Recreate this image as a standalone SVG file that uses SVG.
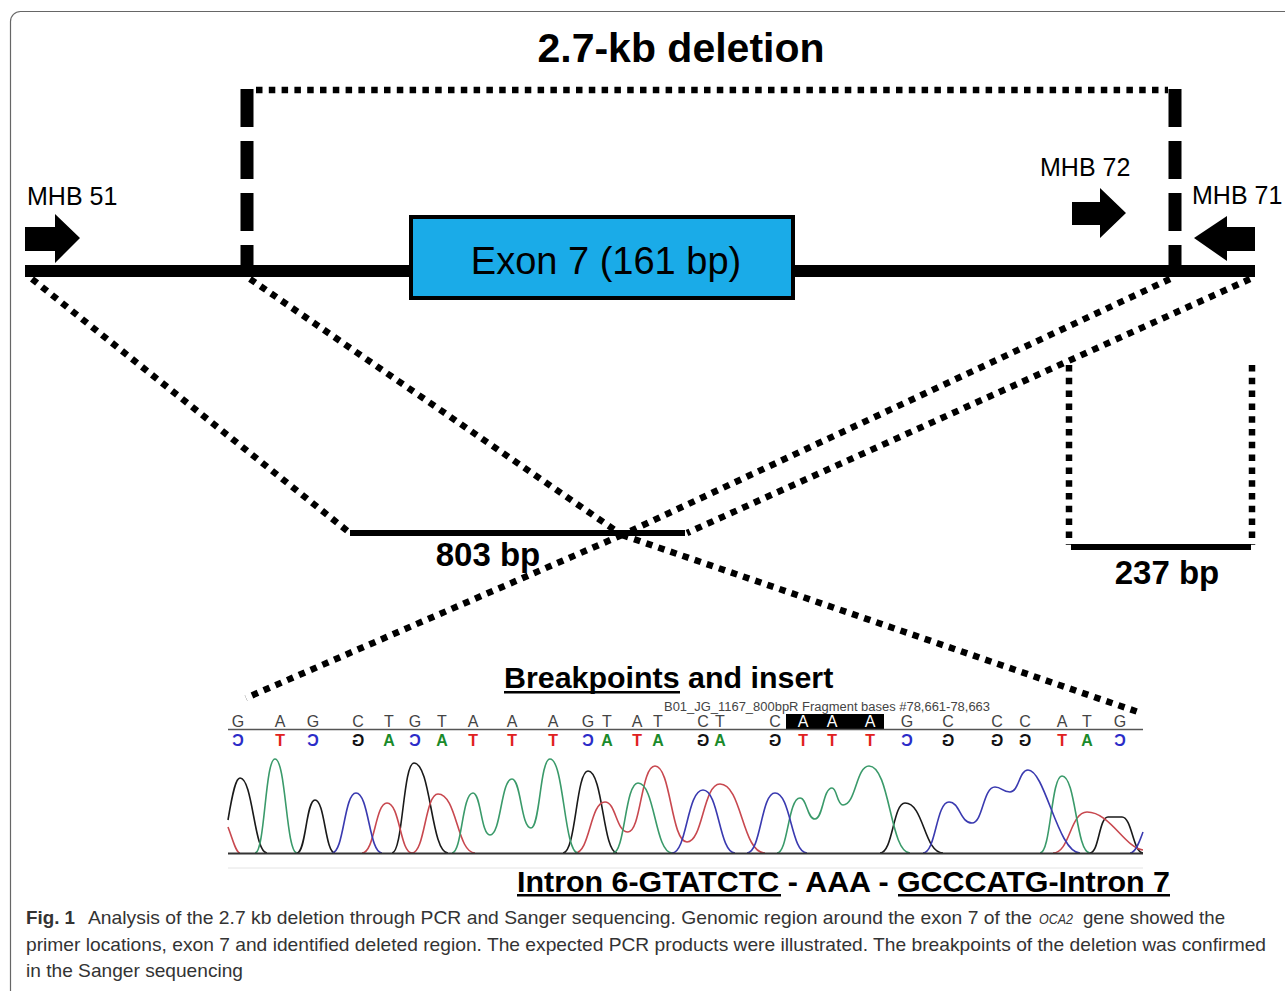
<svg xmlns="http://www.w3.org/2000/svg" width="1285" height="991" viewBox="0 0 1285 991">
<style>
.s{font-family:"Liberation Sans",Arial,sans-serif}
.b{font-weight:bold}
.dot{fill:none;stroke:#000;stroke-width:6.5;stroke-dasharray:6.5 6.3}
.dash{fill:none;stroke:#000;stroke-width:13;stroke-dasharray:38 14}
.top{font-family:"Liberation Sans",Arial,sans-serif;font-size:16px;fill:#444;text-anchor:middle}
.bot{font-family:"Liberation Sans",Arial,sans-serif;font-size:16px;font-weight:bold;text-anchor:middle}
.cap{font-family:"Liberation Sans",Arial,sans-serif;font-size:19px;fill:#333}
.tr{fill:none;stroke-width:1.6}
</style>
<rect width="1285" height="991" fill="#fff"/>
<rect x="10.5" y="11.5" width="1300" height="1000" rx="10" fill="none" stroke="#666" stroke-width="1.2"/>

<text class="s b" x="681" y="62" font-size="41" text-anchor="middle">2.7-kb deletion</text>

<g id="connectors">
  <path class="dot" d="M256,90 H1168"/>
  <path class="dash" d="M247,89 V265"/>
  <path class="dash" d="M1175,89 V265"/>
  <path class="dot" d="M32,279 L350,533"/>
  <path class="dot" d="M250,279 L622,535"/>
  <path class="dot" d="M1170,279 L622,535"/>
  <path class="dot" d="M1250,279 L687,533"/>
  <path class="dot" d="M622,535 L246,698"/>
  <path class="dot" d="M622,535 L1138,712"/>
  <path class="dot" d="M1069,365 V545" stroke-dasharray="6 7.6"/>
  <path class="dot" d="M1252,365 V545" stroke-dasharray="6 7.6"/>
</g>

<g id="genome-line">
  <rect x="25" y="265" width="1230" height="12" fill="#000"/>
</g>

<g id="exon7">
  <rect x="411" y="217" width="382" height="81" fill="#1aabe8" stroke="#000" stroke-width="4"/>
  <text class="s" x="606" y="274" font-size="38" text-anchor="middle">Exon 7 (161 bp)</text>
</g>

<g id="mhb51">
  <text class="s" x="27" y="205" font-size="25">MHB 51</text>
  <polygon points="25,227 55,227 55,214 80,238 55,263 55,251 25,251" fill="#000"/>
</g>
<g id="mhb72">
  <text class="s" x="1040" y="176" font-size="25">MHB 72</text>
  <polygon points="1072,202 1100,202 1100,188 1126,213 1100,238 1100,225 1072,225" fill="#000"/>
</g>
<g id="mhb71">
  <text class="s" x="1192" y="204" font-size="25">MHB 71</text>
  <polygon points="1255,227 1227,227 1227,216 1194,238 1227,261 1227,251 1255,251" fill="#000"/>
</g>

<g id="pcr803">
  <rect x="350" y="530" width="335" height="6" fill="#000"/>
  <text class="s b" x="488" y="566" font-size="33" text-anchor="middle">803 bp</text>
</g>
<g id="pcr237">
  <rect x="1071" y="544" width="180" height="6" fill="#000"/>
  <text class="s b" x="1167" y="584" font-size="33" text-anchor="middle">237 bp</text>
</g>

<g id="breakpoints-title">
  <text class="s b" x="504" y="688" font-size="30.4">Breakpoints and insert</text>
  <rect x="504" y="691" width="176" height="2.5" fill="#000"/>
</g>

<g id="chromatogram">
  <text class="s" x="664" y="711" font-size="12" fill="#444" textLength="326" lengthAdjust="spacingAndGlyphs">B01_JG_1167_800bpR Fragment bases #78,661-78,663</text>
  <rect x="786" y="714" width="98" height="15" fill="#000"/>
  <line x1="228" y1="729.5" x2="1143" y2="729.5" stroke="#555" stroke-width="1.5"/>
  <g class="top">
    <text x="238" y="727">G</text><text x="280" y="727">A</text><text x="313" y="727">G</text><text x="358" y="727">C</text>
    <text x="389" y="727">T</text><text x="415" y="727">G</text><text x="442" y="727">T</text><text x="473" y="727">A</text>
    <text x="512" y="727">A</text><text x="553" y="727">A</text><text x="588" y="727">G</text><text x="607" y="727">T</text>
    <text x="637" y="727">A</text><text x="658" y="727">T</text><text x="703" y="727">C</text><text x="720" y="727">T</text>
    <text x="775" y="727">C</text><text x="803" y="727" fill="#fff">A</text><text x="832" y="727" fill="#fff">A</text><text x="870" y="727" fill="#fff">A</text>
    <text x="907" y="727">G</text><text x="948" y="727">C</text><text x="997" y="727">C</text><text x="1025" y="727">C</text>
    <text x="1062" y="727">A</text><text x="1087" y="727">T</text><text x="1120" y="727">G</text>
  </g>
  <g class="bot">
    <text transform="translate(238,746) scale(-1,1)" fill="#2b2bc8">C</text>
    <text transform="translate(280,746) scale(-1,1)" fill="#e02020">T</text>
    <text transform="translate(313,746) scale(-1,1)" fill="#2b2bc8">C</text>
    <text transform="translate(358,746) scale(-1,1)" fill="#111">G</text>
    <text transform="translate(389,746) scale(-1,1)" fill="#1a8a2a">A</text>
    <text transform="translate(415,746) scale(-1,1)" fill="#2b2bc8">C</text>
    <text transform="translate(442,746) scale(-1,1)" fill="#1a8a2a">A</text>
    <text transform="translate(473,746) scale(-1,1)" fill="#e02020">T</text>
    <text transform="translate(512,746) scale(-1,1)" fill="#e02020">T</text>
    <text transform="translate(553,746) scale(-1,1)" fill="#e02020">T</text>
    <text transform="translate(588,746) scale(-1,1)" fill="#2b2bc8">C</text>
    <text transform="translate(607,746) scale(-1,1)" fill="#1a8a2a">A</text>
    <text transform="translate(637,746) scale(-1,1)" fill="#e02020">T</text>
    <text transform="translate(658,746) scale(-1,1)" fill="#1a8a2a">A</text>
    <text transform="translate(703,746) scale(-1,1)" fill="#111">G</text>
    <text transform="translate(720,746) scale(-1,1)" fill="#1a8a2a">A</text>
    <text transform="translate(775,746) scale(-1,1)" fill="#111">G</text>
    <text transform="translate(803,746) scale(-1,1)" fill="#e02020">T</text>
    <text transform="translate(832,746) scale(-1,1)" fill="#e02020">T</text>
    <text transform="translate(870,746) scale(-1,1)" fill="#e02020">T</text>
    <text transform="translate(907,746) scale(-1,1)" fill="#2b2bc8">C</text>
    <text transform="translate(948,746) scale(-1,1)" fill="#111">G</text>
    <text transform="translate(997,746) scale(-1,1)" fill="#111">G</text>
    <text transform="translate(1025,746) scale(-1,1)" fill="#111">G</text>
    <text transform="translate(1062,746) scale(-1,1)" fill="#e02020">T</text>
    <text transform="translate(1087,746) scale(-1,1)" fill="#1a8a2a">A</text>
    <text transform="translate(1120,746) scale(-1,1)" fill="#2b2bc8">C</text>
  </g>
  <path class="tr" stroke="#1a1a1a" d="M228,820 C233,790 236,778 240,778 C253,778 254,853 267,853 M297,853 C306,853 306,800 315,800 C325,800 325,853 335,853 M392,853 C403,853 403,763 414,763 C431,763 431,853 448,853 M563,853 C576,853 576,771 588,771 C603,771 603,853 617,853 M880,853 C893,853 893,803 905,803 C924,803 924,853 943,853 M1090,853 C1099,853 1099,817 1108,817 L1122,817 C1132,817 1133,853 1143,853"/>
  <path class="tr" stroke="#c8484f" d="M228,827 C233,840 236,853 240,853 M362,853 C375,853 375,803 387,803 C400,803 400,853 412,853 C425,853 425,794 438,794 C457,794 457,853 475,853 M575,853 C590,853 590,802 605,802 C616,802 616,832 628,832 C641,832 641,766 655,766 C671,766 671,842 687,842 C703,842 703,784 720,784 C742,784 742,853 765,853 M1053,853 C1070,853 1070,812 1087,812 C1110,812 1125,848 1143,850"/>
  <path class="tr" stroke="#3a9a6a" d="M255,853 C265,853 265,759 275,759 C286,759 286,853 297,853 M452,853 C462,853 462,793 473,793 C481,793 481,835 490,835 C501,835 501,779 512,779 C521,779 521,828 531,828 C540,828 540,759 550,759 C564,759 564,853 578,853 M613,853 C625,853 625,783 638,783 C655,783 655,853 672,853 M777,853 C788,853 788,798 800,798 C807,798 807,819 815,819 C823,819 823,788 832,788 C837,788 837,805 843,805 C856,805 856,766 869,766 C890,766 890,853 910,853 M1040,853 C1051,853 1051,776 1062,776 C1076,776 1076,853 1090,853"/>
  <path class="tr" stroke="#3a3ab0" d="M332,853 C344,853 344,793 356,793 C369,793 369,853 382,853 M672,853 C687,853 687,790 703,790 C719,790 719,853 735,853 M747,853 C761,853 761,793 775,793 C791,793 791,853 807,853 M923,853 C936,853 936,802 949,802 C960,802 960,823 972,823 C983,823 983,787 995,787 C1002,787 1002,792 1010,792 C1019,792 1019,770 1028,770 C1045,770 1058,853 1080,853 M1130,853 C1136,853 1140,840 1143,832"/>
  <line x1="228" y1="853.5" x2="1143" y2="853.5" stroke="#333" stroke-width="1.8"/>
  <line x1="228" y1="868" x2="1143" y2="868" stroke="#e4e4e4" stroke-width="1"/>
</g>

<g id="junction">
  <text class="s b" x="517" y="892" font-size="30" textLength="653" lengthAdjust="spacingAndGlyphs">Intron 6-GTATCTC - AAA - GCCCATG-Intron 7</text>
  <rect x="517" y="894" width="264" height="2.5" fill="#000"/>
  <rect x="898" y="894" width="272" height="2.5" fill="#000"/>
</g>

<g id="caption">
  <text class="cap" y="924"><tspan x="26" font-weight="bold" textLength="49" lengthAdjust="spacingAndGlyphs">Fig. 1</tspan><tspan x="88" textLength="944" lengthAdjust="spacingAndGlyphs">Analysis of the 2.7 kb deletion through PCR and Sanger sequencing. Genomic region around the exon 7 of the</tspan><tspan x="1039" font-style="italic" font-size="15.5" textLength="34" lengthAdjust="spacingAndGlyphs">OCA2</tspan><tspan x="1083" textLength="142" lengthAdjust="spacingAndGlyphs">gene showed the</tspan></text>
  <text class="cap" x="26" y="951" textLength="1240" lengthAdjust="spacingAndGlyphs">primer locations, exon 7 and identified deleted region. The expected PCR products were illustrated. The breakpoints of the deletion was confirmed</text>
  <text class="cap" x="26" y="977" textLength="217" lengthAdjust="spacingAndGlyphs">in the Sanger sequencing</text>
</g>
</svg>
